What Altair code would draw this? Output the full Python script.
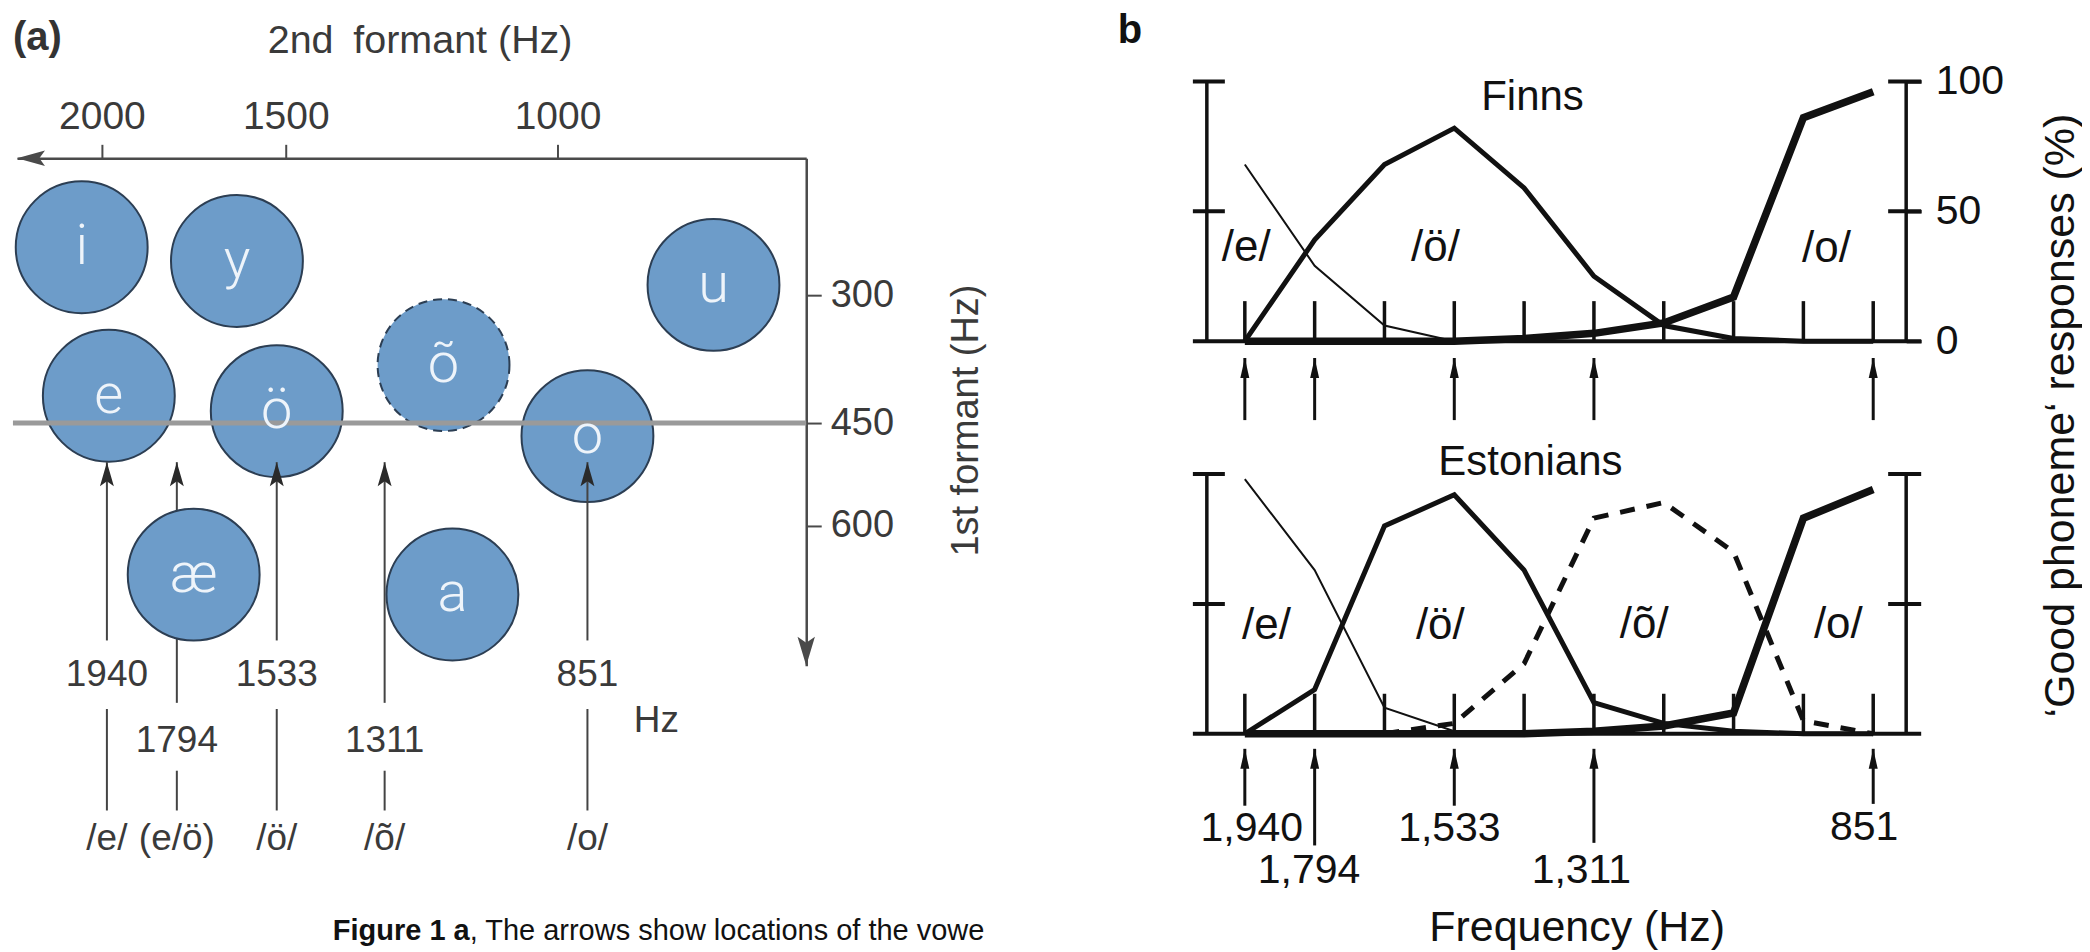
import altair as alt
import pandas as pd

# ======================= DATA =======================
# ---- panel (a): schematic vowel space (F2 across, F1 down) ----
vowels      = ["i", "y", "u", "e", "ö", "õ", "o", "æ", "a"]
vowel_f2    = [2055, 1637, 624, 1936, 1533, 1205, 851, 1750, 1189]
vowel_f1    = [244, 260, 288, 418, 436, 382, 469, 671, 700]
vowel_style = ["solid", "solid", "solid", "solid", "solid", "dashed", "solid", "solid", "solid"]
vowel_layer = ["back", "back", "back", "back", "back", "back", "back", "front", "front"]

stim_f2    = [1940, 1794, 1533, 1311, 851]
stim_text  = ["1940", "1794", "1533", "1311", "851"]
stim_vowel = ["/e/", "(e/ö)", "/ö/", "/õ/", "/o/"]
stim_row   = [1, 2, 1, 2, 1]

f2_ticks = [2000, 1500, 1000]
f1_ticks = [300, 450, 600]
f1_reference = 450

# ---- panel (b): 'good phoneme' responses (%) per stimulus 1..10 ----
stimulus      = [1, 2, 3, 4, 5, 6, 7, 8, 9, 10]
finns_e       = [68, 29, 6, 0, 0, 0, 0, 0, 0, 0]
finns_oe      = [0, 39, 68, 82, 59, 25, 6, 1, 0, 0]
finns_o       = [0, 0, 0, 0, 1, 3, 7, 17, 86, 96]
estonians_e   = [98, 63, 10, 1, 0, 0, 0, 0, 0, 0]
estonians_oe  = [0, 17, 80, 92, 63, 12, 4, 1, 0, 0]
estonians_otl = [None, None, 0, 4, 27, 83, 89, 70, 5, 0]
estonians_o   = [0, 0, 0, 0, 0, 1, 3, 8, 83, 94]
arrow_stimuli = [1, 2, 4, 6, 10]
arrow_labels  = ["1,940", "1,794", "1,533", "1,311", "851"]
pct_ticks     = [0, 50, 100]

# ======================= LAYOUT / STYLE =======================
FONT = "Liberation Sans"
LETTER_FONT = "Roboto"
GREY_TXT = "#3a3a3a"
AX_COL = "#4a4a4a"
BLUE = "#6d9cc9"
EDGE = "#2c3e53"
INK = "#111111"

# panel a: schematic (piecewise) scales as drawn in the figure
A_W, A_H = 790, 508
F2_DOMAIN = [2231, 2000, 1940, 1794, 1533, 1500, 1311, 1000, 851, 457]
F2_RANGE = [0, 85, 90, 160, 260, 269, 368, 541, 571, 790]
F1_DOMAIN = [140, 300, 450, 600, 804]
F1_RANGE = [0, 137, 265, 368, 508]
ARROW_TIP_F1 = 507
ROW_UPPER_END = {1: 767, 2: 858}
ROW_LOWER_START = {1: 867, 2: 957}
LOWER_END_F1 = 1015
ROW_NUMBER_F1 = {1: 818, 2: 913}
VOWEL_ROW_F1 = 1056
LEFT_EDGE_F2 = 2242
HZ_POS = (727, 884)
PANEL_A_LABEL_POS = (2242, -1)
CAPTION_POS = (1158, 1191)

# panel b (one plot area holding both sub-panels, top aligned with panel a)
B_W, B_H = 700, 576
FINNS_RANGE = [183, -77]
EST_RANGE = [576, 316]
AX_L, AX_R = 0.456, 10.472
BASE_L, BASE_R = 0.256, 10.687
CROSS_L = (0.256, 0.714)
CROSS_R = (10.214, 10.687)
TICK_H = 15.4

UP_HEAD_A = "M 0 0 L -0.58 2 L 0 1.6 L 0.58 2 Z"
UP_HEAD_B = "M 0 0 L -0.45 2 L 0.45 2 Z"
LEFT_HEAD = "M 0 0 L 2 -0.55 L 1.6 0 L 2 0.55 Z"
DOWN_HEAD = "M 0 0 L -0.6 -2 L 0 -1.6 L 0.6 -2 Z"

# ======================= PANEL (a) =======================
xs = alt.Scale(domain=F2_DOMAIN, range=F2_RANGE, nice=False, zero=False)
ys = alt.Scale(domain=F1_DOMAIN, range=F1_RANGE, nice=False, zero=False)

ax_top = alt.Axis(orient="top", values=f2_ticks, format="d", grid=False, domainColor=AX_COL, domainWidth=2.5,
                  tickColor=AX_COL, tickWidth=2, tickSize=14, labelFont=FONT, labelFontSize=39,
                  labelColor=GREY_TXT, labelPadding=8, labelAngle=0, labelFlush=False, labelOverlap=False,
                  title="2nd\u2002formant (Hz)", titleFont=FONT, titleFontSize=39.5, titleFontWeight="normal",
                  titleColor=GREY_TXT, titleX=403, titleY=-118, titleAlign="center", titleBaseline="middle")
ax_right = alt.Axis(orient="right", values=f1_ticks, format="d", grid=False, domainColor=AX_COL, domainWidth=2.5,
                    tickColor=AX_COL, tickWidth=2, tickSize=15, labelFont=FONT, labelFontSize=38,
                    labelColor=GREY_TXT, labelPadding=9, labelFlush=False, labelOverlap=False,
                    title="1st formant (Hz)", titleFont=FONT, titleFontSize=38, titleFontWeight="normal",
                    titleColor=GREY_TXT, titleAngle=270, titleX=160, titleY=262,
                    titleAlign="center", titleBaseline="middle")

XA = alt.X("f2:Q", scale=xs, axis=ax_top)
YA = alt.Y("f1:Q", scale=ys, axis=ax_right)

vdf = pd.DataFrame({"vowel": vowels, "f2": vowel_f2, "f1": vowel_f1,
                    "style": vowel_style, "layer": vowel_layer})
circ = dict(size=17424, fill=BLUE, stroke=EDGE, strokeWidth=2, opacity=1, fillOpacity=1)
back_solid = alt.Chart(vdf[(vdf.layer == "back") & (vdf["style"] == "solid")]).mark_circle(**circ).encode(x=XA, y=YA)
back_dash = alt.Chart(vdf[vdf["style"] == "dashed"]).mark_circle(strokeDash=[9, 6], **circ).encode(x=XA, y=YA)
front = alt.Chart(vdf[vdf.layer == "front"]).mark_circle(**circ).encode(x=XA, y=YA)
letters = alt.Chart(vdf).mark_text(font=LETTER_FONT, fontSize=56, fontWeight=300, color="#eef4fa",
                                   align="center", baseline="middle").encode(x=XA, y=YA, text="vowel:N")

arr = pd.DataFrame({"f2": stim_f2, "row": stim_row, "num": stim_text, "vow": stim_vowel})
upper = arr.assign(f1=ARROW_TIP_F1, f1b=[ROW_UPPER_END[r] for r in stim_row])
lower = arr.assign(f1=[ROW_LOWER_START[r] for r in stim_row], f1b=LOWER_END_F1)
nums = arr.assign(f1=[ROW_NUMBER_F1[r] for r in stim_row])
vows = arr.assign(f1=VOWEL_ROW_F1)
heads = arr.assign(f1=ARROW_TIP_F1)

upper_rules = alt.Chart(upper).mark_rule(color="#444444", strokeWidth=2).encode(x=XA, y=YA, y2="f1b:Q")
lower_rules = alt.Chart(lower).mark_rule(color="#444444", strokeWidth=2).encode(x=XA, y=YA, y2="f1b:Q")
head_pts = alt.Chart(heads).mark_point(shape=UP_HEAD_A, size=576, filled=True, color="#2a2a2a",
                                       opacity=1, strokeWidth=0).encode(x=XA, y=YA)
txtA = dict(font=FONT, fontSize=37, color=GREY_TXT, align="center", baseline="middle")
num_txt = alt.Chart(nums).mark_text(**txtA).encode(x=XA, y=YA, text="num:N")
vow_txt = alt.Chart(vows).mark_text(**txtA).encode(x=XA, y=YA, text="vow:N")

grey_line = alt.Chart(pd.DataFrame({"f2": [LEFT_EDGE_F2], "f2b": [F2_DOMAIN[-1]], "f1": [f1_reference]})) \
    .mark_rule(color="#9a9a9a", strokeWidth=5).encode(x=XA, x2="f2b:Q", y=YA)

hz = alt.Chart(pd.DataFrame({"f2": [HZ_POS[0]], "f1": [HZ_POS[1]], "t": ["Hz"]})) \
    .mark_text(**txtA).encode(x=XA, y=YA, text="t:N")
a_label = alt.Chart(pd.DataFrame({"f2": [PANEL_A_LABEL_POS[0]], "f1": [PANEL_A_LABEL_POS[1]], "t": ["(a)"]})) \
    .mark_text(font=FONT, fontSize=40, fontWeight="bold", color="#333333", align="left", baseline="middle") \
    .encode(x=XA, y=YA, text="t:N")
cap_df = pd.DataFrame({"f2": [CAPTION_POS[0]], "f1": [CAPTION_POS[1]],
                       "b": ["Figure 1 a"], "r": [", The arrows show locations of the vowe"]})
cap_bold = alt.Chart(cap_df).mark_text(font=FONT, fontSize=29, fontWeight="bold", color=INK,
                                       align="right", baseline="middle").encode(x=XA, y=YA, text="b:N")
cap_reg = alt.Chart(cap_df).mark_text(font=FONT, fontSize=29, color=INK,
                                      align="left", baseline="middle").encode(x=XA, y=YA, text="r:N")

left_head = alt.Chart(pd.DataFrame({"f2": [F2_DOMAIN[0]], "f1": [F1_DOMAIN[0]]})) \
    .mark_point(shape=LEFT_HEAD, size=784, filled=True, color=AX_COL, opacity=1, strokeWidth=0).encode(x=XA, y=YA)
down_head = alt.Chart(pd.DataFrame({"f2": [F2_DOMAIN[-1]], "f1": [F1_DOMAIN[-1]]})) \
    .mark_point(shape=DOWN_HEAD, size=841, filled=True, color=AX_COL, opacity=1, strokeWidth=0).encode(x=XA, y=YA)

panel_a = alt.layer(back_solid, back_dash, upper_rules, head_pts, lower_rules, front, grey_line,
                    letters, num_txt, vow_txt, hz, a_label, cap_bold, cap_reg, left_head, down_head) \
    .properties(width=A_W, height=A_H)

# ======================= PANEL (b) =======================
bx = alt.Scale(domain=[AX_L, AX_R], nice=False, zero=False)

ax_b = alt.Axis(orient="right", values=pct_ticks, grid=False, domain=False, ticks=True, tickSize=15,
                tickWidth=3.5, tickColor=INK, labelFont=FONT, labelFontSize=41, labelColor=INK,
                labelPadding=14, labelFlush=False, labelOverlap=False,
                title="\u2018Good phoneme\u2018 responses (%)", titleFont=FONT, titleFontSize=43,
                titleFontWeight="normal", titleColor=INK, titleAngle=270, titleX=154, titleY=257,
                titleAlign="center", titleBaseline="middle")


def b_panel(lines, tip, bottoms, texts, y_range, axis):
    by = alt.Scale(domain=[0, 100], range=y_range, nice=False, zero=False)
    X = alt.X("stim:Q", scale=bx, axis=None)
    Y = alt.Y("pct:Q", scale=by, axis=axis)
    layers = []
    vr = pd.DataFrame({"stim": [AX_L, AX_R] + stimulus,
                       "pct": [0] * 12,
                       "pct2": [100, 100] + [TICK_H] * 10})
    layers.append(alt.Chart(vr).mark_rule(color=INK, strokeWidth=3.5).encode(x=X, y=Y, y2="pct2:Q"))
    hr = pd.DataFrame({"stim": [BASE_L, CROSS_L[0], CROSS_L[0], CROSS_R[0], CROSS_R[0]],
                       "stim2": [BASE_R, CROSS_L[1], CROSS_L[1], CROSS_R[1], CROSS_R[1]],
                       "pct": [0, 50, 100, 50, 100]})
    layers.append(alt.Chart(hr).mark_rule(color=INK, strokeWidth=4).encode(x=X, x2="stim2:Q", y=Y))
    for vals, width, dash in lines:
        df = pd.DataFrame({"stim": stimulus, "pct": vals})
        kw = dict(color=INK, strokeWidth=width)
        if dash:
            kw["strokeDash"] = dash
        layers.append(alt.Chart(df).mark_line(**kw).encode(x=X, y=Y))
    adf = pd.DataFrame({"stim": arrow_stimuli, "pct": [tip] * 5, "pct2": bottoms})
    layers.append(alt.Chart(adf).mark_rule(color=INK, strokeWidth=3).encode(x=X, y=Y, y2="pct2:Q"))
    layers.append(alt.Chart(adf).mark_point(shape=UP_HEAD_B, size=400, filled=True, color=INK,
                                            opacity=1, strokeWidth=0).encode(x=X, y=Y))
    for (sx, sy, t, size, weight) in texts:
        tdf = pd.DataFrame({"stim": [sx], "pct": [sy], "t": [t]})
        layers.append(alt.Chart(tdf).mark_text(font=FONT, fontSize=size, fontWeight=weight, color=INK,
                                               align="center", baseline="middle").encode(x=X, y=Y, text="t:N"))
    return alt.layer(*layers)


finns = b_panel(
    [(finns_e, 2, None), (finns_oe, 5, None), (finns_o, 7.5, None)],
    -6.5, [-30.4] * 5,
    [(-0.645, 119.4, "b", 40, "bold"),
     (5.12, 94, "Finns", 42, "normal"),
     (1.02, 36, "/e/", 44, "normal"),
     (3.73, 36, "/ö/", 44, "normal"),
     (9.33, 35.5, "/o/", 44, "normal")],
    FINNS_RANGE, ax_b)

est_texts = [(5.09, 104.6, "Estonians", 42, "normal"),
             (1.31, 41.5, "/e/", 44, "normal"),
             (3.80, 41.5, "/ö/", 44, "normal"),
             (6.72, 41.9, "/õ/", 44, "normal"),
             (9.50, 41.9, "/o/", 44, "normal"),
             (5.76, -74.6, "Frequency (Hz)", 43, "normal")]
label_pos = [(1.10, -36.5), (1.92, -53.0), (3.93, -36.5), (5.82, -53.0), (9.87, -36.2)]
for (lx, ly), lab in zip(label_pos, arrow_labels):
    est_texts.append((lx, ly, lab, 41, "normal"))

estonians = b_panel(
    [(estonians_e, 2, None), (estonians_oe, 5, None), (estonians_otl, 5, [15, 12]), (estonians_o, 7.5, None)],
    -5.8, [-27.7, -43.0, -27.7, -42.0, -27.0],
    est_texts, EST_RANGE, None)

panel_b = alt.layer(finns, estonians).resolve_scale(y="independent").properties(width=B_W, height=B_H)

chart = alt.hconcat(panel_a, panel_b, spacing=401, bounds="flush") \
    .properties(padding={"left": 2, "top": 2, "right": 0, "bottom": 0}, background="white") \
    .configure_view(stroke=None)

chart.save("out.html", embed_options={"renderer": "svg", "actions": False})
